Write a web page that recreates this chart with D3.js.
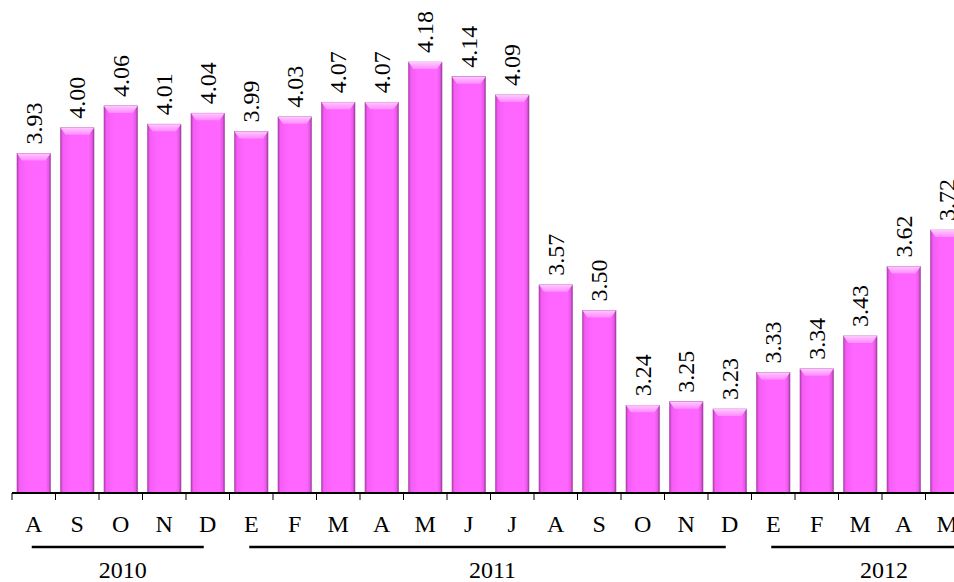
<!DOCTYPE html>
<html>
<head>
<meta charset="utf-8">
<script src="https://cdnjs.cloudflare.com/ajax/libs/d3/7.8.5/d3.min.js"></script>
<style>
  body { margin: 0; background: #fff; }
  svg { display: block; }
</style>
</head>
<body>
<svg width="954" height="582"></svg>
<script>
var months = ['A', 'S', 'O', 'N', 'D', 'E', 'F', 'M', 'A', 'M', 'J', 'J', 'A', 'S', 'O', 'N', 'D', 'E', 'F', 'M', 'A', 'M'];
var values = [3.93, 4.00, 4.06, 4.01, 4.04, 3.99, 4.03, 4.07, 4.07, 4.18, 4.14, 4.09, 3.57, 3.50, 3.24, 3.25, 3.23, 3.33, 3.34, 3.43, 3.62, 3.72];
var years = ['2010', '2011', '2012'];
var yearFirst = [0, 5, 17];
var yearLast = [4, 16, 22]; // 2012 keeps going past the right edge

var font = 'Liberation Serif';
var svg = d3.select('svg');
var baseY = 493;

var x = d3.scaleBand()
  .domain(d3.range(months.length))
  .range([12, 12 + 43.5 * months.length])
  .paddingInner(0.23)
  .paddingOuter(0.115);

var y = d3.scaleLinear()
  .domain([3, 4.35])
  .range([baseY, 0]);

var step = x.step();
function slotCenter(i) { return 12 + step * (i + 0.5); }

// gradients
var defs = svg.append('defs');
var side = defs.append('linearGradient').attr('id', 'barSide').attr('x1', 0).attr('x2', 1).attr('y1', 0).attr('y2', 0);
side.append('stop').attr('offset', '0%').attr('stop-color', '#b23cb2');
side.append('stop').attr('offset', '7%').attr('stop-color', '#f45cf4');
side.append('stop').attr('offset', '30%').attr('stop-color', '#ff66ff');
side.append('stop').attr('offset', '85%').attr('stop-color', '#ff66ff');
side.append('stop').attr('offset', '94%').attr('stop-color', '#e858e8');
side.append('stop').attr('offset', '100%').attr('stop-color', '#9a3a9a');

var cap = defs.append('linearGradient').attr('id', 'barCap').attr('x1', 0).attr('x2', 0).attr('y1', 0).attr('y2', 1);
cap.append('stop').attr('offset', '0%').attr('stop-color', '#ffc8ff');
cap.append('stop').attr('offset', '100%').attr('stop-color', '#ff8cff');

// bars
var bars = svg.append('g').selectAll('g')
  .data(values)
  .join('g');

bars.append('rect')
  .attr('x', function (d, i) { return x(i); })
  .attr('y', function (d) { return y(d); })
  .attr('width', x.bandwidth())
  .attr('height', function (d) { return baseY - y(d); })
  .attr('fill', 'url(#barSide)')
  .attr('stroke', '#a848a8')
  .attr('stroke-width', 0.6);

bars.append('path')
  .attr('fill', 'url(#barCap)')
  .attr('d', function (d, i) {
    var x0 = x(i), x1 = x(i) + x.bandwidth(), t = y(d);
    return 'M' + x0 + ',' + t + ' L' + x1 + ',' + t + ' L' + (x1 - 5) + ',' + (t + 7) + ' L' + (x0 + 5) + ',' + (t + 7) + 'Z';
  });

// value labels
bars.append('text')
  .text(function (d) { return d.toFixed(2); })
  .attr('transform', function (d, i) {
    return 'translate(' + (x(i) + x.bandwidth() / 2 + 8) + ',' + (y(d) - 9) + ') rotate(-90)';
  })
  .attr('font-family', font)
  .attr('font-size', 24)
  .attr('fill', '#000');

// axis line + ticks
svg.append('line')
  .attr('x1', 12)
  .attr('y1', baseY)
  .attr('x2', 954)
  .attr('y2', baseY)
  .attr('stroke', '#000')
  .attr('stroke-width', 2);

svg.append('g').selectAll('line')
  .data(d3.range(months.length + 1))
  .join('line')
  .attr('x1', function (i) { return 12 + step * i; })
  .attr('x2', function (i) { return 12 + step * i; })
  .attr('y1', baseY)
  .attr('y2', baseY + 7)
  .attr('stroke', '#000')
  .attr('stroke-width', 1);

// month labels
svg.append('g').selectAll('text')
  .data(months)
  .join('text')
  .text(function (d) { return d; })
  .attr('x', function (d, i) { return x(i) + x.bandwidth() / 2; })
  .attr('y', 532)
  .attr('text-anchor', 'middle')
  .attr('font-family', font)
  .attr('font-size', 24)
  .attr('fill', '#000');

// year brackets
var yg = svg.append('g').selectAll('g')
  .data(years)
  .join('g');

yg.append('line')
  .attr('x1', function (d, i) { return slotCenter(yearFirst[i]) - 2; })
  .attr('x2', function (d, i) { return slotCenter(yearLast[i]) - 4; })
  .attr('y1', 547)
  .attr('y2', 547)
  .attr('stroke', '#000')
  .attr('stroke-width', 2.6);

yg.append('text')
  .text(function (d) { return d; })
  .attr('x', function (d, i) { return (slotCenter(yearFirst[i]) + slotCenter(yearLast[i])) / 2 + 2; })
  .attr('y', 578)
  .attr('text-anchor', 'middle')
  .attr('font-family', font)
  .attr('font-size', 24)
  .attr('fill', '#000');
</script>
</body>
</html>
